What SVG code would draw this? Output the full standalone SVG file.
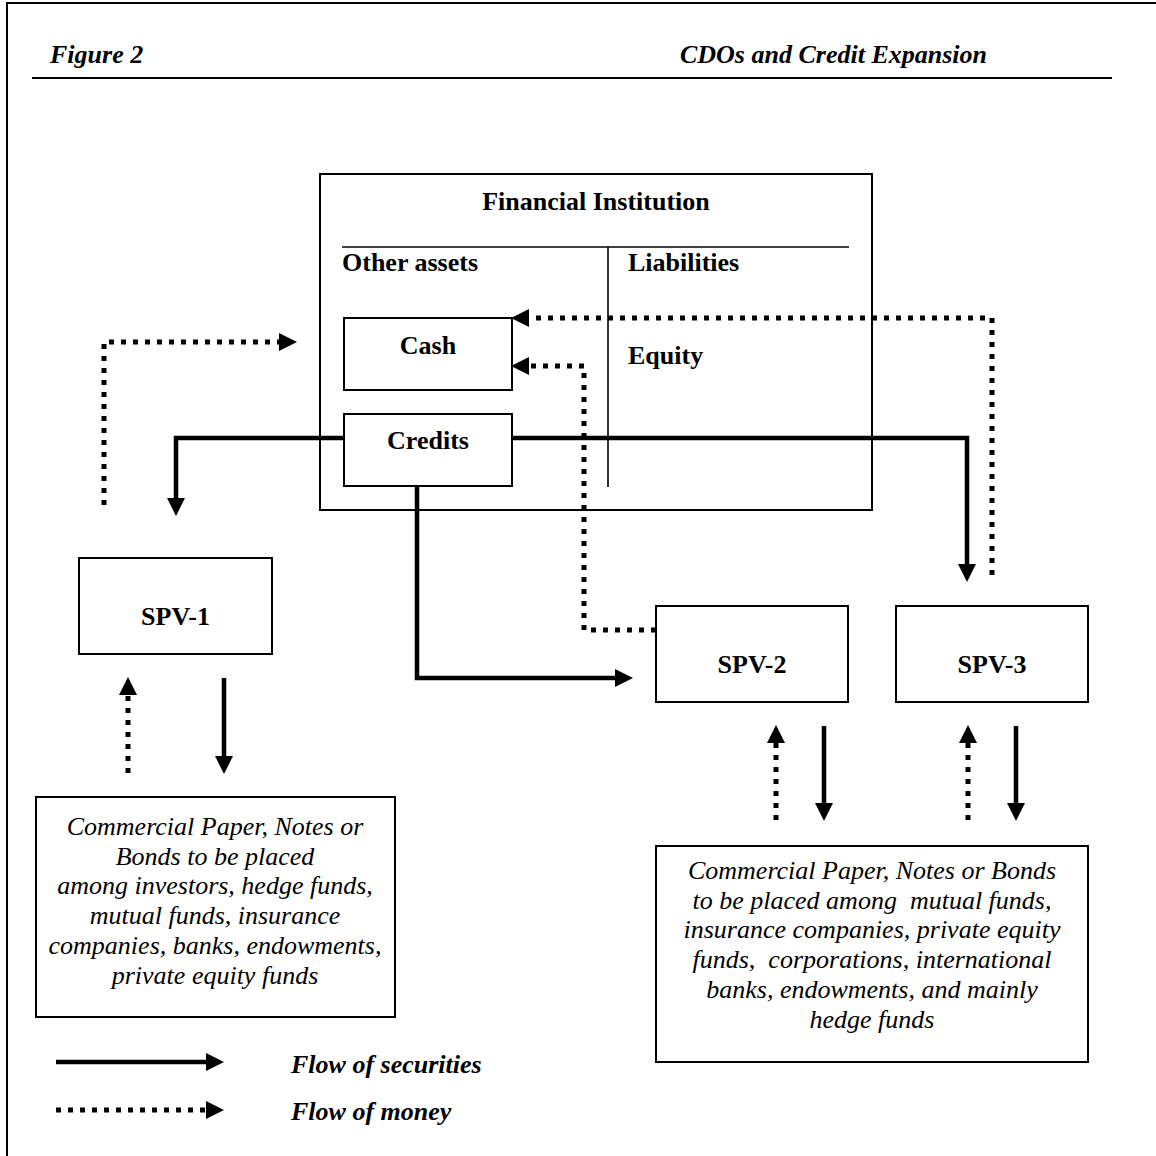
<svg xmlns="http://www.w3.org/2000/svg" width="1156" height="1156" viewBox="0 0 1156 1156">
<defs>
<marker id="ah" markerUnits="userSpaceOnUse" markerWidth="18" markerHeight="18" refX="0" refY="8.5" orient="auto" viewBox="0 0 17 17">
<path d="M0,0 L17,8.5 L0,17 z" fill="#000"/>
</marker>
<style>
.t{font-family:"Liberation Serif","Times New Roman",serif;font-size:26px;fill:#000}
.b{font-weight:bold}
.i{font-style:italic}
.c{text-anchor:middle}
.box{fill:none;stroke:#000;stroke-width:2}
.sol{fill:none;stroke:#000;stroke-width:4.5;marker-end:url(#ah)}
.dot{fill:none;stroke:#000;stroke-width:5;stroke-dasharray:5 7;marker-end:url(#ah)}
</style>
</defs>
<rect width="1156" height="1156" fill="#fff"/>
<rect x="7" y="3" width="1170" height="1170" fill="none" stroke="#000" stroke-width="2"/>
<g id="header">
<text class="t b i" x="50" y="63">Figure 2</text>
<text class="t b i" x="987" y="63" text-anchor="end">CDOs and Credit Expansion</text>
<line x1="32" y1="78" x2="1112" y2="78" stroke="#000" stroke-width="2.2"/>
</g>
<g id="financial-institution">
<rect class="box" x="320" y="174" width="552" height="336" stroke-width="1.6"/>
<text class="t b c" x="596" y="210">Financial Institution</text>
<line x1="342" y1="247" x2="849" y2="247" stroke="#000" stroke-width="1.6"/>
<line x1="608" y1="247" x2="608" y2="487" stroke="#000" stroke-width="1.6"/>
<text class="t b" x="342" y="271">Other assets</text>
<text class="t b" x="628" y="271">Liabilities</text>
<text class="t b" x="628" y="364">Equity</text>
</g>
<g id="cash">
<rect class="box" x="344" y="318" width="168" height="72"/>
<text class="t b c" x="428" y="354">Cash</text>
</g>
<g id="credits">
<rect class="box" x="344" y="414" width="168" height="72"/>
<text class="t b c" x="428" y="449">Credits</text>
</g>
<g id="spv1">
<rect class="box" x="79" y="558" width="193" height="96"/>
<text class="t b c" x="175.5" y="625">SPV-1</text>
</g>
<g id="spv2">
<rect class="box" x="656" y="606" width="192" height="96"/>
<text class="t b c" x="752" y="673">SPV-2</text>
</g>
<g id="spv3">
<rect class="box" x="896" y="606" width="192" height="96"/>
<text class="t b c" x="992" y="673">SPV-3</text>
</g>
<g id="investors-1">
<rect class="box" x="36" y="797" width="359" height="220"/>
<text class="t i c" x="215" y="835">Commercial Paper, Notes or</text>
<text class="t i c" x="215" y="865">Bonds to be placed</text>
<text class="t i c" x="215" y="894">among investors, hedge funds,</text>
<text class="t i c" x="215" y="924">mutual funds, insurance</text>
<text class="t i c" x="215" y="954">companies, banks, endowments,</text>
<text class="t i c" x="215" y="984">private equity funds</text>
</g>
<g id="investors-2">
<rect class="box" x="656" y="846" width="432" height="216"/>
<text class="t i c" x="872" y="879">Commercial Paper, Notes or Bonds</text>
<text class="t i c" x="872" y="909" xml:space="preserve">to be placed among  mutual funds,</text>
<text class="t i c" x="872" y="938">insurance companies, private equity</text>
<text class="t i c" x="872" y="968" xml:space="preserve">funds,  corporations, international</text>
<text class="t i c" x="872" y="998">banks, endowments, and mainly</text>
<text class="t i c" x="872" y="1028">hedge funds</text>
</g>
<g id="connectors">
<path class="dot" d="M104,505 V342 H279"/>
<path class="sol" d="M344,438 H176 V498"/>
<path class="sol" d="M512,438 H967 V564"/>
<path class="dot" d="M992,575 V318 H529"/>
<path class="dot" d="M656,630 H584 V366 H529"/>
<path class="sol" d="M417,486 V678 H615"/>
<path class="dot" d="M128,773 V695"/>
<path class="sol" d="M224,678 V756"/>
<path class="dot" d="M776,820 V743"/>
<path class="sol" d="M824,726 V803"/>
<path class="dot" d="M968,820 V743"/>
<path class="sol" d="M1016,726 V803"/>
</g>
<g id="legend">
<path class="sol" d="M56,1062 H206"/>
<path class="dot" d="M56,1110 H206"/>
<text class="t b i" x="291" y="1073">Flow of securities</text>
<text class="t b i" x="291" y="1120">Flow of money</text>
</g>
</svg>
